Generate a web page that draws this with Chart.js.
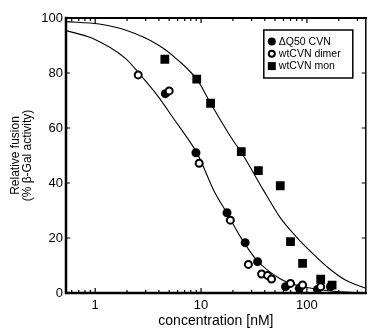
<!DOCTYPE html>
<html>
<head>
<meta charset="utf-8">
<script src="https://cdn.jsdelivr.net/npm/chart.js@4.4.0/dist/chart.umd.min.js"></script>
<style>
  html, body { margin: 0; padding: 0; background: #fff; }
  #wrap { width: 372px; height: 330px; }
</style>
</head>
<body>
<div id="wrap"><canvas id="fusionChart"></canvas></div>
<script>
// series (concentration in nM, % fusion)
const seriesNames = ['\u0394Q50 CVN', 'wtCVN dimer', 'wtCVN mon'];

const q50X = [4.6, 8.95, 17.6, 26.1, 34.2, 62.8, 84.8, 126, 167];
const q50Y = [72.5, 51, 29.2, 18.3, 11.4, 2.3, 1.7, 1.3, 2.3];

const dimerX = [2.55, 5.0, 9.6, 18.9, 28, 37.3, 42.5, 46.3, 70, 91, 135];
const dimerY = [79.3, 73.5, 47.2, 26.5, 10.4, 6.9, 6.4, 5.1, 3.5, 2.9, 2.3];

const monX = [4.55, 9.1, 12.3, 24, 34.8, 56, 70, 91, 135, 173];
const monY = [85, 77.8, 69, 51.4, 44.5, 39, 18.7, 10.8, 5, 2.9];

// fitted curves
const fitLowX = [0.53, 0.94, 1.93, 2.75, 3.94, 5.63, 8.04, 9.28, 13.3, 17.6, 23.5, 33.5, 55.3, 79, 161, 360];
const fitLowY = [95.4, 92.6, 85.3, 78.7, 71.4, 62.9, 54.4, 50.5, 37, 29, 20.5, 12, 5.3, 2.9, 0.8, 0];

const fitHighX = [0.53, 1.09, 1.93, 3.94, 6.05, 9.28, 12.3, 18.9, 25.2, 38.7, 55.3, 79, 113, 161, 231, 360];
const fitHighY = [98.7, 97.8, 95.6, 90.2, 84.7, 77.3, 69, 57, 49.8, 37.5, 27.7, 20.5, 14.4, 9, 4.7, 1.7];

const xTickValues = [0.6, 0.7, 0.8, 0.9, 1, 2, 3, 4, 5, 6, 7, 8, 9, 10, 20, 30, 40, 50, 60, 70, 80, 90, 100, 200, 300];
const xTickLabels = [1, 10, 100];
const yTickValues = [0, 20, 40, 60, 80, 100];

const FONT = '"Liberation Sans", Arial, Helvetica, sans-serif';

function pts(xs, ys) {
  return xs.map((x, i) => ({ x: x, y: ys[i] }));
}

const framePlugin = {
  id: 'frame',
  afterDatasetsDraw(chart) {
    const { ctx, chartArea: a, scales } = chart;
    const x = scales.x;
    const y = scales.y;
    ctx.save();
    ctx.strokeStyle = '#000';
    ctx.lineCap = 'square';

    // box
    ctx.lineWidth = 2;
    ctx.beginPath();
    ctx.moveTo(a.left, a.top); ctx.lineTo(a.right, a.top);
    ctx.stroke();
    ctx.lineWidth = 1.5;
    ctx.beginPath();
    ctx.moveTo(a.right, a.top); ctx.lineTo(a.right, a.bottom);
    ctx.stroke();
    ctx.lineWidth = 2.5;
    ctx.beginPath();
    ctx.moveTo(a.left, a.top); ctx.lineTo(a.left, a.bottom); ctx.lineTo(a.right, a.bottom);
    ctx.stroke();

    // inward ticks
    ctx.lineWidth = 1.2;
    ctx.lineCap = 'butt';
    xTickValues.forEach((v) => {
      const px = x.getPixelForValue(v);
      const len = xTickLabels.includes(v) ? 5 : 3;
      ctx.beginPath();
      ctx.moveTo(px, a.bottom); ctx.lineTo(px, a.bottom - len);
      ctx.moveTo(px, a.top); ctx.lineTo(px, a.top + len);
      ctx.stroke();
    });
    yTickValues.forEach((v) => {
      const py = y.getPixelForValue(v);
      ctx.beginPath();
      ctx.moveTo(a.left, py); ctx.lineTo(a.left + 4, py);
      ctx.moveTo(a.right, py); ctx.lineTo(a.right - 4, py);
      ctx.stroke();
    });

    // legend box in the upper right corner
    const bx = a.right - 102;
    const by = a.top + 12;
    const bw = 89;
    const bh = 48;
    ctx.fillStyle = '#fff';
    ctx.fillRect(bx, by, bw, bh);
    ctx.lineWidth = 1.5;
    ctx.strokeRect(bx, by, bw, bh);
    ctx.font = '10.5px ' + FONT;
    ctx.textBaseline = 'middle';
    ctx.fillStyle = '#000';
    const markers = ['circle', 'ring', 'square'];
    seriesNames.forEach((name, i) => {
      const ry = by + 11.5 + i * 12.3;
      const mx = bx + 8;
      ctx.beginPath();
      if (markers[i] === 'circle') {
        ctx.arc(mx, ry, 4, 0, Math.PI * 2);
        ctx.fill();
      } else if (markers[i] === 'ring') {
        ctx.lineWidth = 2;
        ctx.arc(mx, ry, 3, 0, Math.PI * 2);
        ctx.stroke();
      } else {
        ctx.fillRect(mx - 4, ry - 4, 8, 8);
      }
      ctx.fillText(name, bx + 15, ry + 0.5);
    });
    ctx.restore();
  },
};

new Chart(document.getElementById('fusionChart'), {
  type: 'scatter',
  data: {
    datasets: [
      {
        label: seriesNames[0],
        data: pts(q50X, q50Y),
        pointStyle: 'circle',
        pointRadius: 4.5,
        backgroundColor: '#000',
        borderColor: '#000',
        borderWidth: 0,
        order: 1,
      },
      {
        label: seriesNames[1],
        data: pts(dimerX, dimerY),
        pointStyle: 'circle',
        pointRadius: 3.5,
        backgroundColor: '#fff',
        borderColor: '#000',
        borderWidth: 2,
        order: 0,
      },
      {
        label: seriesNames[2],
        data: pts(monX, monY),
        pointStyle: 'rect',
        pointRadius: 6.2,
        backgroundColor: '#000',
        borderColor: '#000',
        borderWidth: 0,
        order: 2,
      },
      {
        label: 'fit low',
        data: pts(fitLowX, fitLowY),
        showLine: true,
        pointRadius: 0,
        borderColor: '#000',
        borderWidth: 1.1,
        cubicInterpolationMode: 'monotone',
        order: 5,
      },
      {
        label: 'fit high',
        data: pts(fitHighX, fitHighY),
        showLine: true,
        pointRadius: 0,
        borderColor: '#000',
        borderWidth: 1.1,
        cubicInterpolationMode: 'monotone',
        order: 5,
      },
    ],
  },
  options: {
    responsive: true,
    maintainAspectRatio: false,
    animation: false,
    events: [],
    layout: { padding: { top: 18, right: 1, left: 0, bottom: 0 } },
    plugins: {
      legend: { display: false },
      tooltip: { enabled: false },
    },
    scales: {
      x: {
        type: 'logarithmic',
        min: 0.53,
        max: 360,
        afterFit: (s) => { s.height = 37; },
        afterBuildTicks: (s) => { s.ticks = xTickValues.map((v) => ({ value: v })); },
        grid: { display: false, drawTicks: false },
        border: { display: false },
        ticks: {
          autoSkip: false,
          maxRotation: 0,
          padding: 5,
          color: '#000',
          font: { family: FONT, size: 13 },
          callback: (v) => (xTickLabels.includes(v) ? String(v) : ''),
        },
        title: {
          display: true,
          text: 'concentration [nM]',
          color: '#000',
          font: { family: FONT, size: 14 },
          padding: { top: 0, bottom: 0 },
        },
      },
      y: {
        min: 0,
        max: 100,
        afterFit: (s) => { s.width = 66; },
        afterBuildTicks: (s) => { s.ticks = yTickValues.map((v) => ({ value: v })); },
        grid: { display: false, drawTicks: false },
        border: { display: false },
        ticks: {
          padding: 3,
          color: '#000',
          font: { family: FONT, size: 13 },
        },
        title: {
          display: true,
          text: ['Relative fusion', '(% \u03b2-Gal activity)'],
          color: '#000',
          font: { family: FONT, size: 12, lineHeight: 1.05 },
          padding: { top: 9, bottom: 0 },
        },
      },
    },
  },
  plugins: [framePlugin],
});
</script>
</body>
</html>
